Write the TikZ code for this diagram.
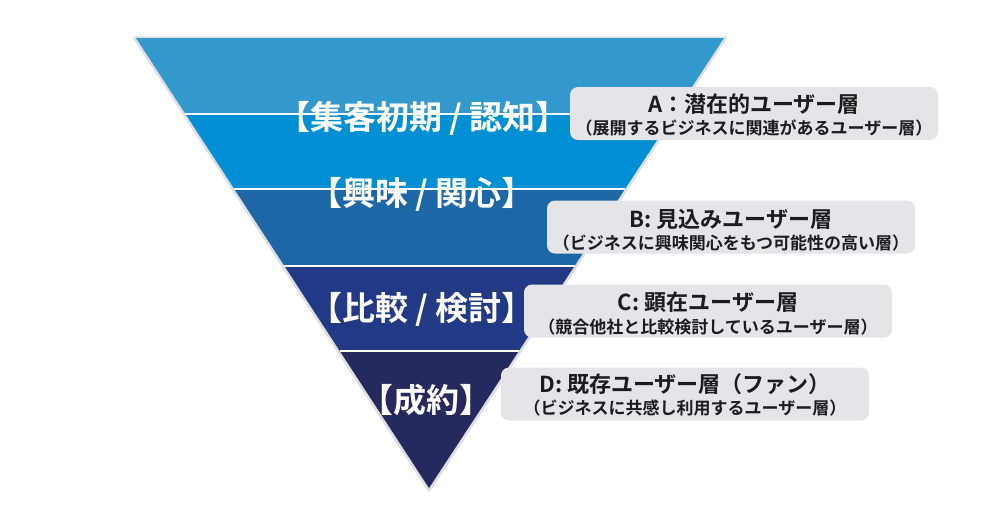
\documentclass[tikz,border=0pt]{standalone}
\usepackage{fontspec}
\newfontfamily\jp{Noto Sans CJK JP}[BoldFont={Noto Sans CJK JP Bold}]
\usetikzlibrary{calc}
\definecolor{bandA}{RGB}{51,152,204}
\definecolor{bandB}{RGB}{0,143,211}
\definecolor{bandC}{RGB}{30,103,166}
\definecolor{bandD}{RGB}{34,57,133}
\definecolor{bandE}{RGB}{38,41,93}
\definecolor{edgegray}{RGB}{222,222,228}
\definecolor{boxgray}{RGB}{229,229,233}
\definecolor{ink}{RGB}{28,28,30}
\begin{document}
\begin{tikzpicture}[x=1pt,y=-1pt,
  stagelabel/.style={font=\jp\bfseries\fontsize{33}{33}\selectfont, text=white, inner sep=0},
  infobox/.style={rounded corners=8pt, fill=boxgray, minimum width=368pt, minimum height=53pt, inner sep=0},
  infotitle/.style={font=\jp\bfseries\fontsize{22}{22}\selectfont, text=ink, inner sep=0},
  infosub/.style={font=\jp\bfseries\fontsize{17}{17}\selectfont, text=ink, inner sep=0},
  sepline/.style={white, line width=2pt}]
\useasboundingbox (0,0) rectangle (1000,523);
\coordinate (TL) at (136,38);
\coordinate (TR) at (724,38);
\coordinate (AP) at (429,488);
\draw[edgegray, line width=3.5pt, line join=round] ([shift={(-1,0)}]TL) -- ([shift={(1,0)}]TR) -- ([shift={(0,2)}]AP) -- cycle;
\foreach \n/\t in {1/0.16889, 2/0.33556, 3/0.50667, 4/0.69556} {
  \coordinate (L\n) at ($(TL)!\t!(AP)$);
  \coordinate (R\n) at ($(TR)!\t!(AP)$);
}
\fill[bandA] (TL) -- (TR) -- (R1) -- (L1) -- cycle;
\fill[bandB] (L1) -- (R1) -- (R2) -- (L2) -- cycle;
\fill[bandC] (L2) -- (R2) -- (R3) -- (L3) -- cycle;
\fill[bandD] (L3) -- (R3) -- (R4) -- (L4) -- cycle;
\fill[bandE] (L4) -- (R4) -- (AP) -- cycle;
\draw[sepline] (L1) -- (R1);
\draw[sepline] (L2) -- (R2);
\draw[sepline] (L3) -- (R3);
\draw[sepline] (L4) -- (R4);

\node[stagelabel] (s1) at (423,118) {【集客初期 / 認知】};
\node[stagelabel] (s2) at (422,194) {【興味 / 関心】};
\node[stagelabel] (s3) at (422,309) {【比較 / 検討】};
\node[stagelabel] (s4) at (426,400) {【成約】};

\node[infobox] (boxA) at (754,113.5) {};
\node[infotitle] (tA) at (754,104.5) {A：潜在的ユーザー層};
\node[infosub] (uA) at (754,128) {（展開するビジネスに関連があるユーザー層）};

\node[infobox] (boxB) at (731,227) {};
\node[infotitle] (tB) at (731,219.5) {B: 見込みユーザー層};
\node[infosub] (uB) at (731,243) {（ビジネスに興味関心をもつ可能性の高い層）};

\node[infobox] (boxC) at (708,311) {};
\node[infotitle] (tC) at (708,302.5) {C: 顕在ユーザー層};
\node[infosub] (uC) at (708,327) {（競合他社と比較検討しているユーザー層）};

\node[infobox] (boxD) at (685,394) {};
\node[infotitle] (tD) at (685,384.5) {D: 既存ユーザー層（ファン）};
\node[infosub] (uD) at (685,408) {（ビジネスに共感し利用するユーザー層）};
\end{tikzpicture}
\end{document}
